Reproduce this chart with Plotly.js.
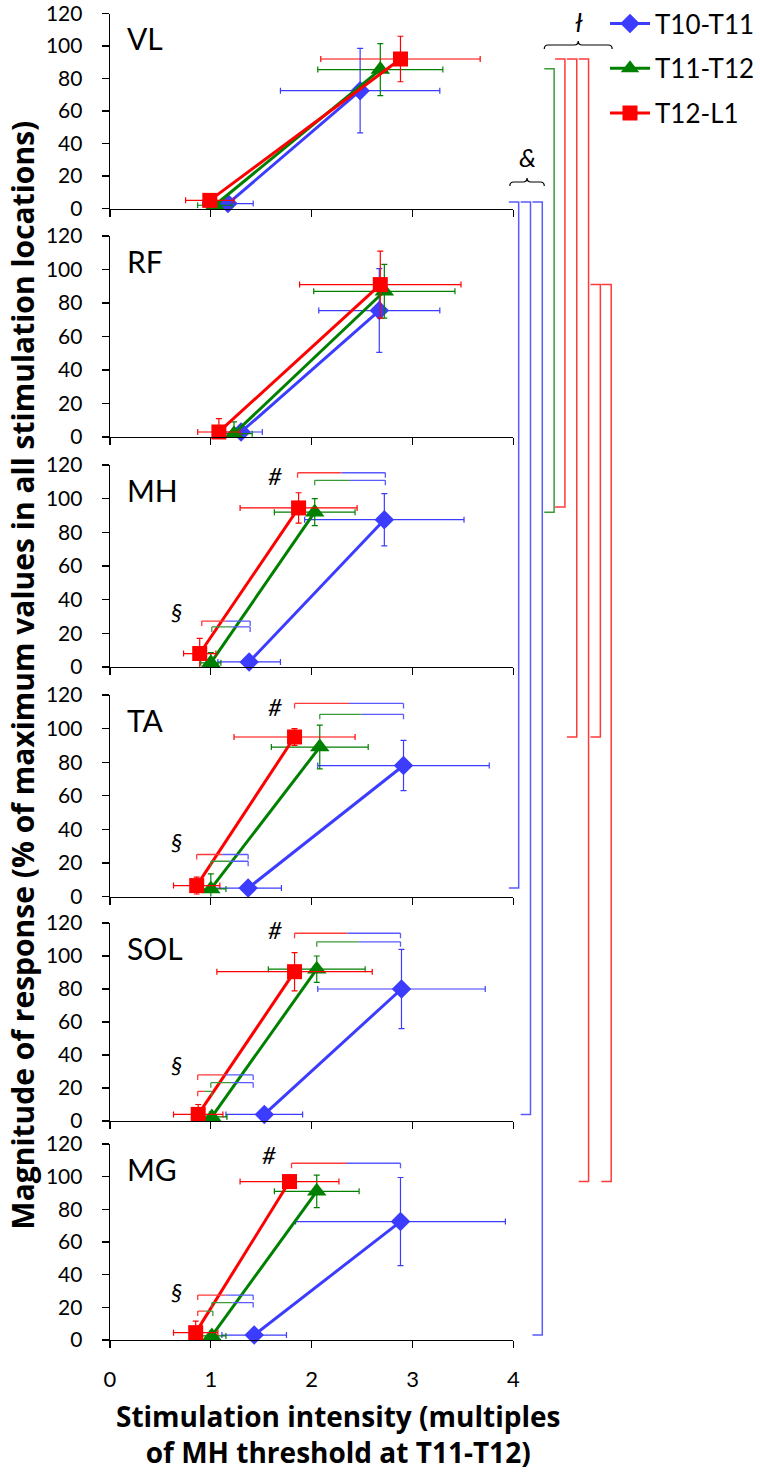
<!DOCTYPE html>
<html><head><meta charset="utf-8">
<script src="https://cdn.plot.ly/plotly-3.0.1.min.js"></script>
<style>html,body{margin:0;padding:0;background:#fff}</style>
</head><body><div id="chart" style="width:760px;height:1472px"></div>
<script>
// ---------------- DATA ----------------
const muscles = ['VL','RF','MH','TA','SOL','MG'];
const seriesNames = ['T10-T11','T11-T12','T12-L1'];

// each panel: [low intensity point, high intensity point]
const t10t11X    = [[1.17,2.48],[1.30,2.67],[1.38,2.72],[1.37,2.91],[1.53,2.89],[1.43,2.88]];
const t10t11Y    = [[3,72.5],[3,75.5],[3,87.5],[5,78],[4,80],[3,72.5]];
const t10t11XErr = [[0.25,0.79],[0.21,0.60],[0.31,0.79],[0.33,0.85],[0.38,0.83],[0.32,1.04]];
const t10t11YErr = [[1,26],[3,25],[1,15.5],[1,15],[1,24],[1,27]];

const t11t12X    = [[1.04,2.68],[1.23,2.72],[1.00,2.03],[1.00,2.08],[1.01,2.05],[1.01,2.05]];
const t11t12Y    = [[2,85.5],[2,87],[2.5,92],[4.5,89],[2.5,92],[2.5,91]];
const t11t12XErr = [[0.17,0.62],[0.18,0.70],[0.10,0.40],[0.15,0.48],[0.15,0.48],[0.14,0.42]];
const t11t12YErr = [[2,16],[7,16],[6,8],[9,13],[3,8],[3,10]];

const t12l1X     = [[0.99,2.88],[1.08,2.68],[0.89,1.87],[0.86,1.83],[0.875,1.83],[0.85,1.78]];
const t12l1Y     = [[5,92],[3,91],[8,94.5],[6.5,95],[4,90.5],[4.5,97]];
const t12l1XErr  = [[0.24,0.79],[0.21,0.80],[0.16,0.58],[0.23,0.60],[0.245,0.77],[0.22,0.49]];
const t12l1YErr  = [[3,14],[8,20],[9,9],[5,5],[6,11.6],[7,3]];

// within-panel significance brackets: [panel, left series, right series, level, x start, x end]
const sigBrackets = [
  [2,2,0,115.4,1.86,2.73],[2,1,0,110.9,2.03,2.73],[2,2,0,27.3,0.91,1.39],[2,1,0,23.8,1.01,1.39],
  [3,2,0,115.0,1.83,2.91],[3,1,0,108.5,2.08,2.91],[3,2,0,25.0,0.86,1.37],[3,1,0,21.0,1.00,1.37],
  [4,2,0,113.8,1.83,2.88],[4,1,0,108.6,2.05,2.88],[4,2,0,27.9,0.87,1.42],[4,1,0,23.2,1.00,1.42],[4,2,1,18.0,0.87,1.01],
  [5,2,0,108.2,1.80,2.88],[5,2,0,27.5,0.87,1.42],[5,1,0,22.9,1.01,1.42],[5,2,1,17.7,0.87,1.02]
];
// significance symbols: [panel, text, x, y]
const sigMarks = [
  [2,'#',1.64,113.5],[2,'§',0.66,33],
  [3,'#',1.64,113],[3,'§',0.66,33],
  [4,'#',1.64,115.9],[4,'§',0.66,34],
  [5,'#',1.58,113.4],[5,'§',0.66,30]
];
// between-panel brackets: [series, from panel, from value, to panel, to value]
const crossBrackets = [
  [0,0,4,3,5],[0,0,4,4,4],[0,0,4,5,3],
  [1,0,86,2,92],
  [2,0,92,2,95],[2,0,92,3,95],[2,0,92,5,97],[2,1,91,3,95],[2,1,91,5,97]
];
const groupLabels = ['&','ł'];
const yTitle = 'Magnitude of response (% of maximum values in all stimulation locations)';
const xTitle = 'Stimulation intensity (multiples<br>of MH threshold at T11-T12)';

// ---------------- LAYOUT HELPERS ----------------
const W = 760, H = 1472;
const panelTop = [13.5, 236, 465, 695, 923, 1144];
const panelBot = [208.5, 437, 667, 896.5, 1121, 1340];
const xLeft = 111.7, xRight = 521.7;
const colors = ['#3c3cff','#008000','#ff0000'];
const bracketColors = ['#5a5aff','#3a9a3a','#ff3a3a'];
const symbols = ['diamond','triangle-up','square'];
const sizes = [15,17,15];
const FONT = 'Lato, "Open Sans", sans-serif';
const TFONT = '"Open Sans", Lato, sans-serif';

const px = v => v / W;
const py = v => 1 - v / H;
const valPx = (p, v) => panelBot[p] - v / 120 * (panelBot[p] - panelTop[p]);

const allX = [t10t11X, t11t12X, t12l1X];
const allY = [t10t11Y, t11t12Y, t12l1Y];
const allXE = [t10t11XErr, t11t12XErr, t12l1XErr];
const allYE = [t10t11YErr, t11t12YErr, t12l1YErr];

const traces = [];
const layout = {
  width: W, height: H, autosize: false,
  margin: {l:0, r:0, t:0, b:0},
  paper_bgcolor: '#fff', plot_bgcolor: 'rgba(0,0,0,0)',
  font: {family: FONT, size: 21, color: '#000'},
  showlegend: true,
  legend: {x: px(615), y: py(0), xanchor: 'left', yanchor: 'top',
           font: {family: FONT, size: 26, color: '#000'}, bgcolor: 'rgba(0,0,0,0)',
           tracegroupgap: 8, itemwidth: 40},
  shapes: [], annotations: []
};

muscles.forEach((m, p) => {
  const xa = 'xaxis' + (p === 0 ? '' : p + 1), ya = 'yaxis' + (p === 0 ? '' : p + 1);
  const xr = 'x' + (p === 0 ? '' : p + 1), yr = 'y' + (p === 0 ? '' : p + 1);
  layout[xa] = {domain: [px(xLeft), px(xRight)], anchor: yr, range: [0, 4], tickvals: [0,1,2,3,4],
    showline: true, linecolor: '#000', linewidth: 1.3, ticks: 'outside', ticklen: 7, tickwidth: 1.3, tickcolor: '#000',
    showgrid: false, zeroline: false, showticklabels: p === 5, tickfont: {family: FONT, size: 22},
    ticklabelstandoff: 12, ticklabeloverflow: 'allow', fixedrange: true};
  layout[ya] = {domain: [py(panelBot[p]), py(panelTop[p])], anchor: xr, range: [0, 120], dtick: 20,
    showline: true, linecolor: '#000', linewidth: 1.3, ticks: 'outside', ticklen: 7, tickwidth: 1.3, tickcolor: '#000',
    showgrid: false, zeroline: false, tickfont: {family: FONT, size: 21}, ticklabelstandoff: 15,
    ticklabeloverflow: 'allow', fixedrange: true};
  for (let s = 0; s < 3; s++) {
    traces.push({
      type: 'scatter', mode: 'lines+markers', name: seriesNames[s],
      legendgroup: seriesNames[s], showlegend: p === 0,
      x: allX[s][p], y: allY[s][p], xaxis: xr, yaxis: yr, cliponaxis: false,
      line: {color: colors[s], width: 3},
      marker: {symbol: symbols[s], size: sizes[s], color: colors[s]},
      error_x: {type: 'data', array: allXE[s][p], symmetric: true, color: colors[s], thickness: 1.2, width: 3},
      error_y: {type: 'data', array: allYE[s][p], symmetric: true, color: colors[s], thickness: 1.2, width: 3},
      hoverinfo: 'x+y'
    });
  }
  layout.annotations.push({xref: 'paper', yref: 'paper', x: px(127), y: py(valPx(p, 105)),
    xanchor: 'left', yanchor: 'middle', text: m, showarrow: false, font: {family: FONT, size: 30, color: '#000'}});
});

// within-panel brackets
const drop = 3;
sigBrackets.forEach(([p, a, b, lvl, x0, x1]) => {
  const xr = 'x' + (p === 0 ? '' : p + 1), yr = 'y' + (p === 0 ? '' : p + 1);
  const xm = (x0 + x1) / 2;
  const seg = (xa, ya, xb, yb, c) => layout.shapes.push({type: 'line', xref: xr, yref: yr,
    x0: xa, y0: ya, x1: xb, y1: yb, line: {color: bracketColors[c], width: 1.3}, layer: 'above'});
  seg(x0, lvl - drop, x0, lvl, a); seg(x0, lvl, xm, lvl, a);
  seg(xm, lvl, x1, lvl, b); seg(x1, lvl, x1, lvl - drop, b);
});
sigMarks.forEach(([p, t, x, y]) => {
  const xr = 'x' + (p === 0 ? '' : p + 1), yr = 'y' + (p === 0 ? '' : p + 1);
  layout.annotations.push({xref: xr, yref: yr, x: x, y: y, text: '<i>' + t + '</i>', showarrow: false,
    xanchor: 'center', yanchor: 'middle', font: {family: FONT, size: 24, color: '#000'}});
});

// between-panel brackets
const crossX = [527, 539, 551, 563, 574, 586, 598, 610, 621];
crossBrackets.forEach(([s, pf, vf, pt, vt], i) => {
  const xx = crossX[i], ya = valPx(pf, vf), yb = valPx(pt, vt), hook = 10;
  layout.shapes.push({type: 'path', xref: 'paper', yref: 'paper',
    path: `M${px(xx - hook)},${py(ya)} L${px(xx)},${py(ya)} L${px(xx)},${py(yb)} L${px(xx - hook)},${py(yb)}`,
    line: {color: bracketColors[s], width: 1.5}});
});
// curly braces
function brace(xa, xb, y) {
  const xm = (xa + xb) / 2, h = 4;
  const P = (a, b) => px(a) + ',' + py(b);
  return `M${P(xa, y + h)} Q${P(xa, y)} ${P(xa + h, y)} L${P(xm - h, y)} Q${P(xm, y)} ${P(xm, y - h)} ` +
         `Q${P(xm, y)} ${P(xm + h, y)} L${P(xb - h, y)} Q${P(xb, y)} ${P(xb, y + h)}`;
}
layout.shapes.push({type: 'path', xref: 'paper', yref: 'paper', path: brace(518, 553, 182), line: {color: '#000', width: 1.2}});
layout.shapes.push({type: 'path', xref: 'paper', yref: 'paper', path: brace(553, 622, 45), line: {color: '#000', width: 1.2}});
layout.annotations.push({xref: 'paper', yref: 'paper', x: px(536), y: py(157), xanchor: 'center', yanchor: 'middle',
  text: '<i>' + groupLabels[0] + '</i>', showarrow: false, font: {family: FONT, size: 26, color: '#000'}});
layout.annotations.push({xref: 'paper', yref: 'paper', x: px(588), y: py(22), xanchor: 'center', yanchor: 'middle',
  text: '<i>' + groupLabels[1] + '</i>', showarrow: false, font: {family: FONT, size: 26, color: '#000'}});

// axis titles
layout.annotations.push({xref: 'paper', yref: 'paper', x: px(22), y: py(675), textangle: -90,
  text: '<b>' + yTitle + '</b>', showarrow: false,
  font: {family: TFONT, size: 30, color: '#000'}, xanchor: 'center', yanchor: 'middle'});
layout.annotations.push({xref: 'paper', yref: 'paper', x: px(343), y: py(1434),
  text: '<b>' + xTitle + '</b>', showarrow: false, align: 'center',
  font: {family: TFONT, size: 28, color: '#000'}, xanchor: 'center', yanchor: 'middle'});

Plotly.newPlot('chart', traces, layout, {staticPlot: true, displayModeBar: false});
</script></body></html>
